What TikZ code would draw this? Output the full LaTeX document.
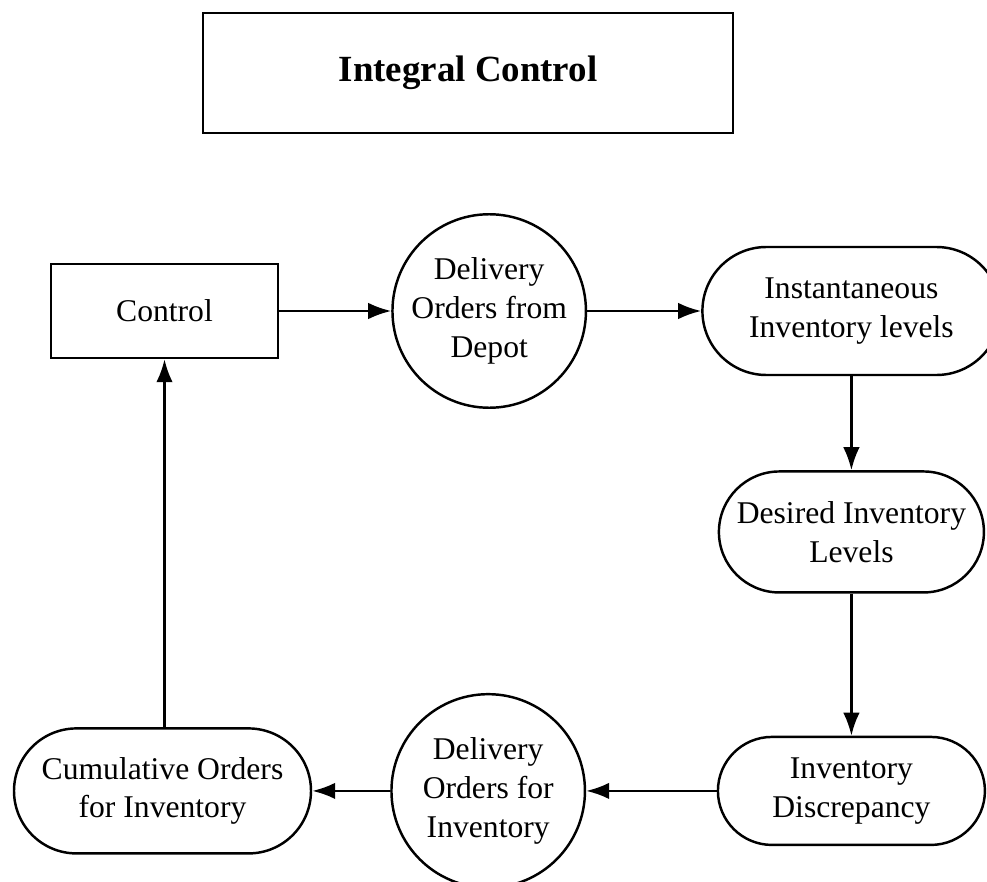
\documentclass[tikz,border=0pt]{standalone}
\usepackage{fontspec}
\setmainfont{Liberation Serif}
\usetikzlibrary{arrows.meta,positioning}

\begin{document}
\begin{tikzpicture}[font=\fontsize{18}{22}\selectfont]

% Styles
\tikzset{
  titlebox/.style={
    draw,
    line width=1.4pt,
    rectangle,
    minimum width=10.6cm,
    minimum height=2.4cm,
    font=\fontsize{21}{25}\selectfont\bfseries
  },
  blockbox/.style={
    draw,
    line width=1.4pt,
    rectangle,
    minimum width=4.54cm,
    minimum height=1.88cm,
    align=center
  },
  roundbox/.style 2 args={
    draw,
    line width=1.4pt,
    rectangle,
    rounded corners=#2,
    minimum width=#1,
    minimum height=2*#2,
    inner sep=2pt,
    align=center
  },
  ordercirc/.style={
    draw,
    line width=1.4pt,
    circle,
    inner sep=0pt,
    minimum size=3.87cm,
    align=center
  },
  flow/.style={
    -{Latex[length=4.6mm,width=3.3mm]},
    line width=1.4pt
  }
}

\useasboundingbox (0,0) rectangle (19.74,-17.64);

% Title
\node[titlebox] (title) at (9.36,-1.46) {Integral Control};

% Upper row
\node[blockbox] (ctrl) at (3.29,-6.22) {Control};
\node[ordercirc, right=2.24cm of ctrl] (depot) {Delivery\\Orders from\\Depot};
\node[roundbox={5.96cm}{1.28cm}, right=2.28cm of depot] (inst) {Instantaneous\\Inventory levels};

% Right column
\node[roundbox={5.3cm}{1.21cm}, below=1.88cm of inst] (desired) {Desired Inventory\\Levels};
\node[roundbox={5.34cm}{1.08cm}, below=2.84cm of desired] (discrep) {Inventory\\Discrepancy};

% Lower row
\node[ordercirc, left=2.61cm of discrep] (invorders) {Delivery\\Orders for\\Inventory};
\node[roundbox={5.94cm}{1.25cm}, left=1.56cm of invorders] (cumul) {Cumulative Orders\\for Inventory};

% Connectors
\draw[flow] (ctrl) -- (depot);
\draw[flow] (depot) -- (inst);
\draw[flow] (inst) -- (desired);
\draw[flow] (desired) -- (discrep);
\draw[flow] (discrep) -- (invorders);
\draw[flow] (invorders) -- (cumul);
\draw[flow] (cumul.north -| ctrl.south) -- (ctrl.south);

\end{tikzpicture}
\end{document}
